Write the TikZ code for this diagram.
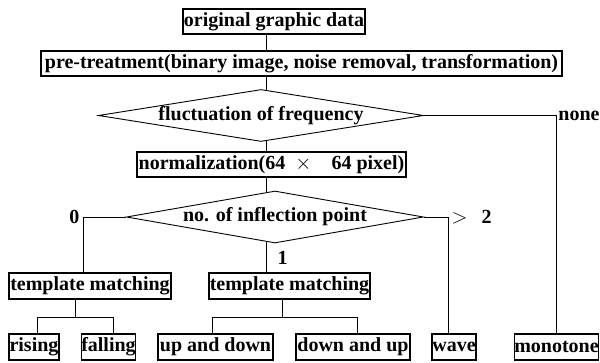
\documentclass[tikz,border=0pt]{standalone}
\usepackage{fontspec}
\setmainfont{Liberation Serif}
\usepackage{amsmath}
\usetikzlibrary{shapes.geometric}

\begin{document}
\begin{tikzpicture}[x=1pt, y=-1pt,
        font=\fontsize{20}{24}\selectfont\bfseries,
        box/.style={draw, rectangle, line width=1.1pt, inner xsep=0pt, inner ysep=0pt, minimum height=25pt},
        decision/.style={draw, diamond, line width=0.9pt, inner sep=0pt, minimum height=52pt},
        link/.style={line width=0.8pt}]
        \useasboundingbox (0,0) rectangle (600,363);
        \coordinate (Spine) at (266,0);

        % Nodes
        \node[box, minimum width=182pt] (Original) at (274,21.5) {original graphic data};
        \node[box, minimum width=521pt] (Pretreat) at (301.5,63.5) {pre-treatment(binary image, noise removal, transformation)};
        \node[decision, minimum width=325pt, label={center:fluctuation of frequency}] (Fluct) at (261,115.5) {};
        \node[box, minimum width=269pt] (Norm) at (271.5,164.5) {normalization(64\hspace{10pt}$\times$\hspace{20pt}64 pixel)};
        \node[decision, minimum width=297pt, label={center:no. of inflection point}] (Inflect) at (275,217) {};
        \node[box, minimum width=162pt, minimum height=26pt] (TemplA) at (90,286) {template matching};
        \node[box, minimum width=161pt, minimum height=26pt] (TemplB) at (289.5,286) {template matching};
        \node[box, minimum width=50pt, minimum height=26pt] (Rising) at (34,347) {rising};
        \node[box, minimum width=53pt, minimum height=26pt] (Falling) at (108.5,347) {falling};
        \node[box, minimum width=115pt, minimum height=26pt] (UpDown) at (215.5,347) {up and down};
        \node[box, minimum width=114pt, minimum height=26pt] (DownUp) at (353,347) {down and up};
        \node[box, minimum width=44pt, minimum height=26pt] (Wave) at (454,347) {wave};
        \node[box, minimum width=83pt, minimum height=26pt] (Monotone) at (556.5,347) {monotone};
        \coordinate (ForkA) at (75,317);
        \coordinate (ForkB) at (282,317);

        % Lines
        \draw[link] (Original.south -| Spine) -- (Pretreat.north -| Spine);
        \draw[link, shorten >=-1pt] (Pretreat.south -| Spine) -- (Spine |- Fluct.north);
        \draw[link, shorten <=-1pt] (Spine |- Fluct.south) -- (Norm.north -| Spine);
        \draw[link] (Fluct.east) -| node[pos=0.5, right, inner xsep=1.5pt]{none} (Monotone.north);
        \draw[link, shorten >=-1.6pt] (Norm.south -| Spine) -- (Spine |- Inflect.north);
        \draw[link] (Inflect.west) -| node[pos=0.5, left]{0} ([xshift=-7pt]TemplA.north);
        \draw[link] (Inflect.east) -| node[pos=0.5, right]{$>$\hspace{14pt}2} ([xshift=-6pt]Wave.north);
        \draw[link, shorten <=-1.6pt] (Spine |- Inflect.south) -- node[right, xshift=8pt]{1} (TemplB.north -| Spine);
        \draw[link] (TemplA.south -| ForkA) -- (ForkA);
        \draw[link] ([xshift=3pt]Rising.north) |- ([xshift=4.5pt]Falling.north |- ForkA) -- ([xshift=4.5pt]Falling.north);
        \draw[link] (TemplB.south -| ForkB) -- (ForkB);
        \draw[link] ([xshift=-3.5pt]UpDown.north) |- ([xshift=4pt]DownUp.north |- ForkB) -- ([xshift=4pt]DownUp.north);
    \end{tikzpicture}
\end{document}
